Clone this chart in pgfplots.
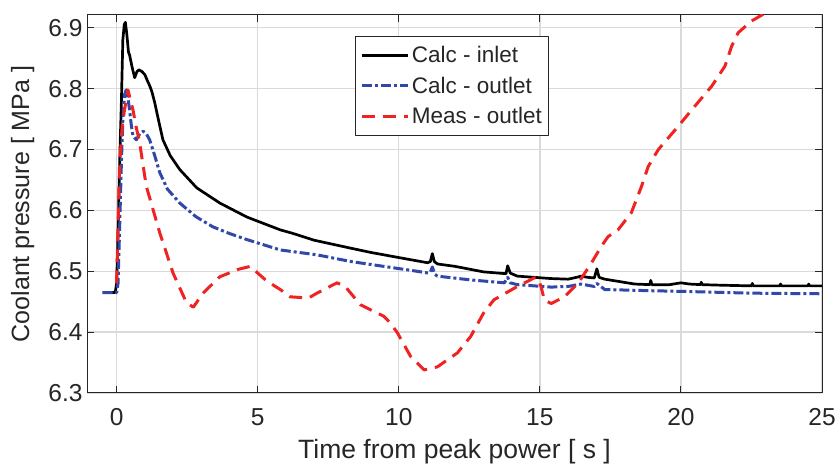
\documentclass[border=0pt]{standalone}
\usepackage{pgfplots}
\pgfplotsset{compat=1.18}
\usepackage{fontspec}
\setmainfont{Liberation Sans}
\definecolor{mblue}{RGB}{48,72,170}
\definecolor{mred}{RGB}{240,35,35}
\definecolor{axgray}{RGB}{38,38,38}
\definecolor{gridgray}{RGB}{218,218,218}
\begin{document}
\begin{tikzpicture}
\useasboundingbox (0,0) rectangle (835pt,468pt);
\begin{axis}[
 at={(87pt,75pt)}, anchor=south west, scale only axis,
 width=735pt, height=378pt,
 xmin=-1.05, xmax=25, ymin=6.3, ymax=6.921,
 xtick={0,5,10,15,20,25},
 ytick={6.3,6.4,6.5,6.6,6.7,6.8,6.9},
 grid=major,
 major grid style={gridgray, line width=1.3pt},
 axis line style={axgray, line width=1pt},
 tick style={axgray, line width=1pt},
 major tick length=7pt,
 tick align=inside,
 /pgf/number format/assume math mode=true,
 ticklabel style={font=\fontsize{24.5}{28}\selectfont, text=axgray},
 yticklabel style={/pgf/number format/fixed, /pgf/number format/fixed zerofill, /pgf/number format/precision=1, xshift=-1pt},
 xticklabel style={yshift=-12pt},
 xlabel={Time from peak power [ s ]},
 ylabel={Coolant pressure [ MPa ]},
 label style={text=axgray},
 xlabel style={font=\fontsize{26.5}{30}\selectfont, at={(axis description cs:0.5,0)}, anchor=base, yshift=-66pt},
 ylabel style={font=\fontsize{25}{30}\selectfont, at={(axis description cs:-0.0789,0.5)}, anchor=base},
 legend style={at={(axis description cs:0.365,0.944)}, anchor=north west,
   font=\fontsize{22.5}{26}\selectfont, draw=axgray, line width=1pt, text=axgray,
   inner xsep=5pt, inner ysep=8pt, row sep=8.5pt},
 legend cell align=left,
 legend image code/.code={\draw[#1] (0pt,0pt) -- (46pt,0pt);},
 line join=round,
]
\addplot[black, line width=2.7pt] table {
-0.5 6.465
-0.05 6.465
0.0 6.48
0.05 6.56
0.12 6.70
0.17 6.78
0.22 6.88
0.27 6.905
0.31 6.909
0.36 6.89
0.42 6.86
0.46 6.855
0.55 6.835
0.64 6.818
0.72 6.828
0.79 6.831
0.9 6.828
1.0 6.823
1.1 6.812
1.17 6.805
1.25 6.795
1.35 6.777
1.5 6.745
1.64 6.716
1.9 6.69
2.24 6.667
2.84 6.637
3.66 6.612
4.62 6.589
5.8 6.568
6.26 6.562
7.0 6.551
8.29 6.538
9.0 6.531
10.06 6.522
11.02 6.514
11.12 6.516
11.19 6.529
11.26 6.516
11.37 6.512
12.0 6.508
13.0 6.499
13.8 6.496
13.86 6.509
13.95 6.497
14.2 6.492
15.4 6.488
16.0 6.487
16.3 6.490
16.46 6.492
16.7 6.490
16.93 6.489
17.02 6.504
17.1 6.490
17.3 6.487
18.36 6.479
18.9 6.478
18.93 6.485
18.97 6.478
19.6 6.478
20.0 6.481
20.3 6.479
20.7 6.478
20.72 6.482
20.75 6.478
21.5 6.477
22.5 6.476
22.53 6.480
22.56 6.476
23.5 6.476
23.53 6.479
23.56 6.476
24.5 6.476
24.53 6.479
24.56 6.476
25 6.476
};
\addlegendentry{Calc - inlet}
\addplot[mblue, line width=3pt, dash pattern=on 10pt off 3pt on 3pt off 3pt] table {
-0.5 6.465
0.0 6.465
0.05 6.48
0.1 6.56
0.17 6.68
0.22 6.75
0.28 6.79
0.34 6.798
0.4 6.785
0.46 6.765
0.52 6.74
0.58 6.722
0.7 6.716
0.82 6.726
0.94 6.730
1.05 6.726
1.17 6.716
1.35 6.69
1.53 6.662
1.8 6.635
2.24 6.612
2.8 6.59
3.41 6.573
4.0 6.562
4.62 6.552
5.8 6.535
7.1 6.527
8.3 6.516
9.47 6.508
10.5 6.501
11.06 6.497
11.12 6.499
11.19 6.507
11.28 6.495
11.37 6.492
12.5 6.486
13.74 6.481
13.86 6.490
13.95 6.481
14.2 6.478
15.4 6.474
16.0 6.475
16.46 6.479
16.93 6.475
17.02 6.480
17.3 6.470
18.95 6.468
20.0 6.467
22.5 6.464
25 6.463
};
\addlegendentry{Calc - outlet}
\addplot[mred, line width=3pt, dash pattern=on 13pt off 8pt] table {
0.0 6.48
0.1 6.67
0.2 6.74
0.28 6.765
0.4 6.798
0.5 6.78
0.58 6.765
0.7 6.735
0.8 6.716
1.05 6.64
1.53 6.563
2.0 6.497
2.48 6.448
2.72 6.441
3.06 6.464
3.66 6.491
4.3 6.503
4.73 6.508
5.32 6.484
5.8 6.47
6.15 6.458
6.8 6.456
7.1 6.464
7.81 6.481
8.1 6.475
8.64 6.445
9.47 6.426
9.7 6.415
9.95 6.399
10.42 6.36
10.9 6.338
11.37 6.343
12.08 6.366
12.55 6.393
13.0 6.431
13.37 6.453
14.2 6.475
14.8 6.489
14.93 6.489
15.04 6.475
15.16 6.453
15.4 6.447
15.87 6.458
16.35 6.48
16.82 6.513
17.18 6.541
17.42 6.557
17.77 6.568
18.24 6.596
18.6 6.639
18.84 6.672
19.2 6.70
19.9 6.738
20.38 6.765
21.09 6.804
21.56 6.837
21.8 6.87
22.03 6.892
22.5 6.911
22.98 6.924
23.3 6.935
};
\addlegendentry{Meas - outlet}
\end{axis}
\end{tikzpicture}
\end{document}
